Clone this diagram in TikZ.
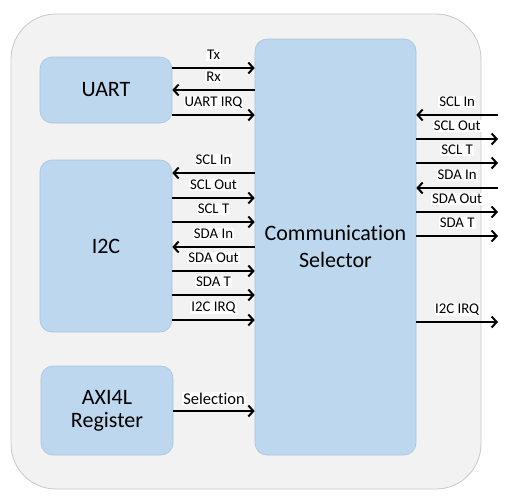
\documentclass[tikz,border=0pt]{standalone}
\usepackage{fontspec}
\setmainfont{Carlito}[Ligatures=NoCommon]
\usetikzlibrary{arrows.meta}
\definecolor{outerfill}{HTML}{F2F2F2}
\definecolor{outerline}{HTML}{C8C8C8}
\definecolor{boxfill}{HTML}{BDD7EE}
\definecolor{boxline}{HTML}{A9C3DC}
\begin{document}
\begin{tikzpicture}[x=1pt,y=-1pt,
  outerbox/.style={draw=outerline, fill=outerfill, line width=0.8pt, rounded corners=45pt, inner sep=0pt},
  blockbox/.style={draw=boxline, fill=boxfill, line width=0.6pt, rounded corners=12pt, inner sep=0pt, align=center, font=\fontsize{22}{27}\selectfont},
  arr/.style={-{Straight Barb[length=5pt,width=11pt,line width=2pt]}, line width=2.2pt, black},
  lbl/.style={fill=white, inner sep=1pt, anchor=base, yshift=8.5pt, font=\fontsize{14.8}{16}\selectfont, text=black}
]
\useasboundingbox (0,0) rectangle (506,496);
\node[outerbox, minimum width=470pt, minimum height=475pt] (outer) at (246,251.5) {};
\node[blockbox, minimum width=132pt, minimum height=66pt] (uart) at (106,90) {UART};
\node[blockbox, minimum width=132pt, minimum height=172pt] (i2c) at (106,246) {I2C};
\node[blockbox, minimum width=132pt, minimum height=89pt, font=\fontsize{22}{23}\selectfont] (axi) at (107,410.5) {AXI4L\\Register};
\node[blockbox, minimum width=161pt, minimum height=416pt] (cs) at (335.5,247) {Communication\\Selector};

% UART <-> CS
\draw[arr] (uart.east |- 0,68) -- (cs.west |- 0,68) node[lbl, pos=0.5] {Tx};
\draw[arr] (cs.west |- 0,90) -- (uart.east |- 0,90) node[lbl, pos=0.5] {Rx};
\draw[arr] (uart.east |- 0,115) -- (cs.west |- 0,115) node[lbl, pos=0.5] {UART IRQ};

% I2C <-> CS
\draw[arr] (cs.west |- 0,173) -- (i2c.east |- 0,173) node[lbl, pos=0.5] {SCL In};
\draw[arr] (i2c.east |- 0,198) -- (cs.west |- 0,198) node[lbl, pos=0.5] {SCL Out};
\draw[arr] (i2c.east |- 0,222) -- (cs.west |- 0,222) node[lbl, pos=0.5] {SCL T};
\draw[arr] (cs.west |- 0,247) -- (i2c.east |- 0,247) node[lbl, pos=0.5] {SDA In};
\draw[arr] (i2c.east |- 0,271) -- (cs.west |- 0,271) node[lbl, pos=0.5] {SDA Out};
\draw[arr] (i2c.east |- 0,295) -- (cs.west |- 0,295) node[lbl, pos=0.5] {SDA T};
\draw[arr] (i2c.east |- 0,320) -- (cs.west |- 0,320) node[lbl, pos=0.5] {I2C IRQ};

% AXI -> CS
\draw[arr] (axi.east |- 0,411) -- (cs.west |- 0,411) node[lbl, pos=0.5, yshift=-1.5pt, font=\fontsize{16.5}{18}\selectfont] {Selection};

% right side
\coordinate (r1) at (498,115);
\coordinate (r2) at (498,139);
\coordinate (r3) at (498,163);
\coordinate (r4) at (498,188);
\coordinate (r5) at (498,212);
\coordinate (r6) at (498,236);
\coordinate (r7) at (498,322);
\draw[arr] (r1) -- (cs.east |- r1) node[lbl, pos=0.5] {SCL In};
\draw[arr] (cs.east |- r2) -- (r2) node[lbl, pos=0.5] {SCL Out};
\draw[arr] (cs.east |- r3) -- (r3) node[lbl, pos=0.5] {SCL T};
\draw[arr] (r4) -- (cs.east |- r4) node[lbl, pos=0.5] {SDA In};
\draw[arr] (cs.east |- r5) -- (r5) node[lbl, pos=0.5] {SDA Out};
\draw[arr] (cs.east |- r6) -- (r6) node[lbl, pos=0.5] {SDA T};
\draw[arr] (cs.east |- r7) -- (r7) node[lbl, pos=0.5] {I2C IRQ};
\end{tikzpicture}
\end{document}
